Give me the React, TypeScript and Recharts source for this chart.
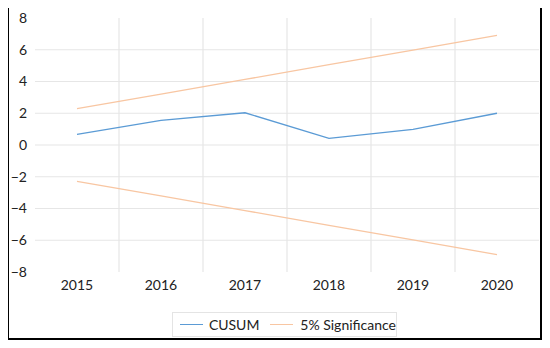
import React from 'react';
import { LineChart, Line, XAxis, YAxis, CartesianGrid } from 'recharts';

const years = ['2015', '2016', '2017', '2018', '2019', '2020'];
const cusum = [0.67, 1.55, 2.03, 0.42, 0.99, 2.0];
const upper = [2.29, 3.21, 4.13, 5.06, 5.98, 6.9];
const lower = [-2.29, -3.21, -4.13, -5.06, -5.98, -6.9];
const yTicks = [-8, -6, -4, -2, 0, 2, 4, 6, 8];
const gridValues = [-6, -4, -2, 0, 2, 4, 6];
const Y_MIN = -8;
const Y_MAX = 8;
const X_PAD = 42;

const data = years.map((y, i) => ({ year: y, cusum: cusum[i], upper: upper[i], lower: lower[i] }));

const BLUE = '#5B9BD5';
const ORANGE = '#F8C6A2';
const FONT = 'Lato, Calibri, "Open Sans", sans-serif';

const fmt = (v: number) => (v < 0 ? '\u2212' + Math.abs(v) : String(v));

const callScale = (axis: any, v: any): number | null => {
  if (!axis) return null;
  const s = axis.scale;
  if (typeof s === 'function') return s(v);
  if (s && typeof s.map === 'function') return s.map(v);
  return null;
};

const LegendBox = () => (
  <div
    style={{
      position: 'absolute',
      left: 172,
      top: 312,
      width: 225,
      border: '1px solid #e4e4e4',
      height: 25,
      display: 'flex',
      alignItems: 'center',
      fontFamily: FONT,
      fontSize: 14,
      color: '#222',
      boxSizing: 'border-box',
      paddingLeft: 7,
      whiteSpace: 'nowrap',
    }}
  >
    <span style={{ display: 'inline-block', width: 28, height: 0, borderTop: `1.5px solid ${BLUE}` }} />
    <span style={{ marginLeft: 6 }}>CUSUM</span>
    <span style={{ display: 'inline-block', width: 28, height: 0, borderTop: `1.5px solid ${ORANGE}`, marginLeft: 11 }} />
    <span style={{ marginLeft: 7 }}>5% Significance</span>
  </div>
);

export default function App() {
  return (
    <div style={{ position: 'relative', width: 550, height: 348, margin: -8, background: '#fff' }}>
      <div
        style={{
          position: 'absolute',
          left: 6,
          top: 5,
          width: 537,
          height: 336,
          border: '3px solid #000',
          boxSizing: 'border-box',
        }}
      />
      <div style={{ position: 'absolute', left: 0, top: 0 }}>
        <LineChart width={550} height={348} data={data} margin={{ top: 18, right: 11, bottom: 46, left: 0 }}>
          <CartesianGrid
            stroke="#e6e6e6"
            strokeWidth={1.2}
            verticalCoordinatesGenerator={(props: any) => {
              const pos = years.map((y) => callScale(props.xAxis, y));
              let p: number[];
              if (pos.every((v) => typeof v === 'number' && !isNaN(v as number))) {
                p = pos as number[];
              } else {
                const o = props.offset;
                const l = o.left + X_PAD;
                const r = o.left + o.width - X_PAD;
                const step = (r - l) / (years.length - 1);
                p = years.map((_, i) => l + step * i);
              }
              const out: number[] = [];
              for (let i = 1; i < p.length; i++) out.push((p[i - 1] + p[i]) / 2);
              return out;
            }}
            horizontalCoordinatesGenerator={(props: any) => {
              const pos = gridValues.map((v) => callScale(props.yAxis, v));
              if (pos.every((v) => typeof v === 'number' && !isNaN(v as number))) return pos as number[];
              const o = props.offset;
              return gridValues.map((v) => o.top + ((Y_MAX - v) / (Y_MAX - Y_MIN)) * o.height);
            }}
          />
          <XAxis
            dataKey="year"
            axisLine={false}
            tickLine={false}
            padding={{ left: X_PAD, right: X_PAD }}
            tick={{ fill: '#222', fontSize: 14, fontFamily: FONT }}
            interval={0}
          />
          <YAxis
            width={35}
            domain={[Y_MIN, Y_MAX]}
            ticks={yTicks}
            axisLine={false}
            tickLine={false}
            tickFormatter={fmt}
            tick={{ fill: '#222', fontSize: 14, fontFamily: FONT }}
            interval={0}
          />
          <Line type="linear" dataKey="cusum" name="CUSUM" stroke={BLUE} strokeWidth={1.3} dot={false} isAnimationActive={false} />
          <Line type="linear" dataKey="upper" name="5% Significance" stroke={ORANGE} strokeWidth={1.3} dot={false} isAnimationActive={false} />
          <Line type="linear" dataKey="lower" name="5% Significance lower" stroke={ORANGE} strokeWidth={1.3} dot={false} isAnimationActive={false} />
        </LineChart>
      </div>
      <LegendBox />
    </div>
  );
}
